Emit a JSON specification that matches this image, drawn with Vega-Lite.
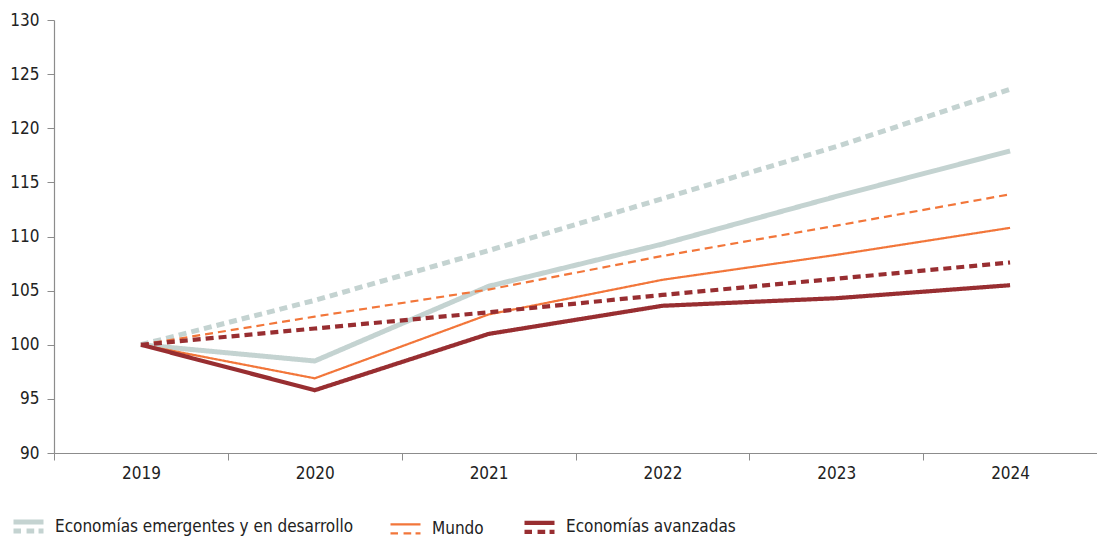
{
  "$schema": "https://vega.github.io/schema/vega-lite/v6.json",
  "width": 1043,
  "height": 433,
  "autosize": {"type": "none"},
  "padding": {"left": 54, "top": 20, "right": 0, "bottom": 84},
  "background": "white",
  "config": {
    "font": "DejaVu Sans Condensed",
    "view": {"stroke": null},
    "axis": {"grid": false, "domainColor": "#8c8c8c", "tickColor": "#8c8c8c", "labelColor": "#222222", "labelFontSize": 17, "labelFont": "DejaVu Sans Condensed", "titleFontSize": 0}
  },
  "data": {
    "values": [
      {"year": "2019", "region": "Economías emergentes y en desarrollo", "tipo": "Observado", "value": 100},
      {"year": "2020", "region": "Economías emergentes y en desarrollo", "tipo": "Observado", "value": 98.5},
      {"year": "2021", "region": "Economías emergentes y en desarrollo", "tipo": "Observado", "value": 105.4},
      {"year": "2022", "region": "Economías emergentes y en desarrollo", "tipo": "Observado", "value": 109.3},
      {"year": "2023", "region": "Economías emergentes y en desarrollo", "tipo": "Observado", "value": 113.7},
      {"year": "2024", "region": "Economías emergentes y en desarrollo", "tipo": "Observado", "value": 117.9},
      {"year": "2019", "region": "Economías emergentes y en desarrollo", "tipo": "Tendencia", "value": 100},
      {"year": "2020", "region": "Economías emergentes y en desarrollo", "tipo": "Tendencia", "value": 104.1},
      {"year": "2021", "region": "Economías emergentes y en desarrollo", "tipo": "Tendencia", "value": 108.7},
      {"year": "2022", "region": "Economías emergentes y en desarrollo", "tipo": "Tendencia", "value": 113.5},
      {"year": "2023", "region": "Economías emergentes y en desarrollo", "tipo": "Tendencia", "value": 118.3},
      {"year": "2024", "region": "Economías emergentes y en desarrollo", "tipo": "Tendencia", "value": 123.6},
      {"year": "2019", "region": "Mundo", "tipo": "Observado", "value": 100},
      {"year": "2020", "region": "Mundo", "tipo": "Observado", "value": 96.9},
      {"year": "2021", "region": "Mundo", "tipo": "Observado", "value": 102.8},
      {"year": "2022", "region": "Mundo", "tipo": "Observado", "value": 106.0},
      {"year": "2023", "region": "Mundo", "tipo": "Observado", "value": 108.3},
      {"year": "2024", "region": "Mundo", "tipo": "Observado", "value": 110.8},
      {"year": "2019", "region": "Mundo", "tipo": "Tendencia", "value": 100},
      {"year": "2020", "region": "Mundo", "tipo": "Tendencia", "value": 102.6},
      {"year": "2021", "region": "Mundo", "tipo": "Tendencia", "value": 105.1},
      {"year": "2022", "region": "Mundo", "tipo": "Tendencia", "value": 108.2},
      {"year": "2023", "region": "Mundo", "tipo": "Tendencia", "value": 111.0},
      {"year": "2024", "region": "Mundo", "tipo": "Tendencia", "value": 113.9},
      {"year": "2019", "region": "Economías avanzadas", "tipo": "Observado", "value": 100},
      {"year": "2020", "region": "Economías avanzadas", "tipo": "Observado", "value": 95.8},
      {"year": "2021", "region": "Economías avanzadas", "tipo": "Observado", "value": 101.0},
      {"year": "2022", "region": "Economías avanzadas", "tipo": "Observado", "value": 103.6},
      {"year": "2023", "region": "Economías avanzadas", "tipo": "Observado", "value": 104.3},
      {"year": "2024", "region": "Economías avanzadas", "tipo": "Observado", "value": 105.5},
      {"year": "2019", "region": "Economías avanzadas", "tipo": "Tendencia", "value": 100},
      {"year": "2020", "region": "Economías avanzadas", "tipo": "Tendencia", "value": 101.5},
      {"year": "2021", "region": "Economías avanzadas", "tipo": "Tendencia", "value": 103.0},
      {"year": "2022", "region": "Economías avanzadas", "tipo": "Tendencia", "value": 104.6},
      {"year": "2023", "region": "Economías avanzadas", "tipo": "Tendencia", "value": 106.1},
      {"year": "2024", "region": "Economías avanzadas", "tipo": "Tendencia", "value": 107.6}
    ]
  },
  "mark": {"type": "line", "strokeCap": "butt", "strokeJoin": "miter"},
  "encoding": {
    "x": {
      "field": "year", "type": "ordinal", "title": null,
      "scale": {"type": "band", "paddingInner": 0, "paddingOuter": 0},
      "axis": {"tickBand": "extent", "labelAngle": 0, "tickSize": 7, "labelPadding": 5, "domainWidth": 1.2}
    },
    "y": {
      "field": "value", "type": "quantitative", "title": null,
      "scale": {"domain": [90, 130], "nice": false, "zero": false},
      "axis": {"values": [90, 95, 100, 105, 110, 115, 120, 125, 130], "tickSize": 7, "labelPadding": 8, "domainWidth": 1.2}
    },
    "color": {
      "field": "region", "type": "nominal",
      "scale": {
        "domain": ["Economías emergentes y en desarrollo", "Mundo", "Economías avanzadas"],
        "range": ["#c4d3d1", "#f2763a", "#982e31"]
      },
      "legend": {
        "title": null,
        "orient": "none",
        "legendX": -43,
        "legendY": 489,
        "direction": "horizontal",
        "columns": 3,
        "padding": 0,
        "symbolType": "M-1,-0.3H1M-1,0.3H-0.5M-0.13,0.3H0.38M0.67,0.3H1",
        "symbolSize": 900,
        "symbolStrokeWidth": 4,
        "labelFontSize": 17,
        "labelFont": "DejaVu Sans Condensed",
        "labelColor": "#222222",
        "labelOffset": 9,
        "labelLimit": 0,
        "columnPadding": 32,
        "encode": {
          "symbols": {
            "update": {
              "strokeWidth": {"signal": "datum.value === 'Mundo' ? 2.5 : 4"},
              "fill": {"value": "transparent"}
            }
          }
        }
      }
    },
    "strokeDash": {
      "field": "tipo", "type": "nominal",
      "scale": {"domain": ["Observado", "Tendencia"], "range": [[1, 0], [8, 5]]},
      "legend": null
    },
    "strokeWidth": {
      "field": "region", "type": "nominal",
      "scale": {
        "type": "ordinal",
        "domain": ["Economías emergentes y en desarrollo", "Mundo", "Economías avanzadas"],
        "range": [5, 2.2, 4.2]
      },
      "legend": null
    }
  }
}
